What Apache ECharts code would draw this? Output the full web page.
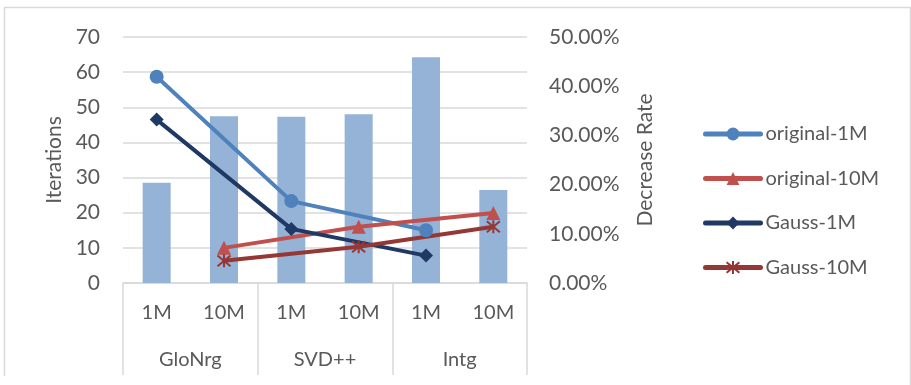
<!DOCTYPE html>
<html>
<head>
<meta charset="utf-8">
<script src="https://cdn.jsdelivr.net/npm/echarts@6/dist/echarts.min.js"></script>
<style>
  html, body { margin: 0; padding: 0; background: #fff; }
  #chart { width: 911px; height: 385px; }
</style>
</head>
<body>
<div id="chart"></div>
<script>
// Category tiers: data size under each algorithm group
const sizeLabels = ['1M', '10M', '1M', '10M', '1M', '10M'];
const groupLabels = ['GloNrg', 'SVD++', 'Intg'];

// Decrease rate (%) per column, drawn as bars on the right axis
const decreaseRate = [20.4, 33.9, 33.8, 34.3, 45.9, 18.9];

// Iteration counts (left axis); each series only has values in its own size columns
const original1M  = [58.7, null, 23.3, null, 15.0, null];
const original10M = [null, 10.0, null, 16.0, null, 19.9];
const gauss1M     = [46.5, null, 15.4, null, 7.8, null];
const gauss10M    = [null, 6.3, null, 10.3, null, 16.0];

const leftTicks = { min: 0, max: 70, interval: 10 };
const rightTicks = { min: 0, max: 50, interval: 10 };

const FONT = 'Lato';
const TEXT = '#595959';
const GRID = '#d9d9d9';

const asterisk = 'path://M0,0L10,10M10,0L0,10M5,-1L5,11';

const lineNames = ['original-1M', 'original-10M', 'Gauss-1M', 'Gauss-10M'];
const lineColors = ['#4f81bd', '#c0504d', '#1f3864', '#953735'];

const chart = echarts.init(document.getElementById('chart'), null, { renderer: 'canvas' });

function lineSeries(name, data, color, symbol, extra) {
  return Object.assign({
    name: name,
    type: 'line',
    yAxisIndex: 0,
    data: data,
    connectNulls: true,
    symbol: symbol,
    symbolSize: 14,
    lineStyle: { color: color, width: 4, cap: 'round' },
    itemStyle: { color: color },
    z: 3
  }, extra || {});
}

chart.setOption({
  animation: false,
  textStyle: { fontFamily: FONT },
  graphic: [{
    type: 'polyline',
    shape: { points: [[4.5, 376], [4.5, 7.5], [910.5, 7.5], [910.5, 385]] },
    style: { stroke: GRID, lineWidth: 1.5, fill: null },
    silent: true
  }],
  grid: { left: 123, right: 384, top: 37, bottom: 102 },
  legend: {
    orient: 'vertical',
    left: 698,
    top: 119,
    itemWidth: 55,
    itemHeight: 16,
    itemGap: 24.5,
    textStyle: { color: TEXT, fontSize: 20, fontFamily: FONT },
    data: lineNames.map((n, i) => ({
      name: n,
      lineStyle: { width: 5, color: lineColors[i], cap: 'round' }
    }))
  },
  xAxis: [{
    type: 'category',
    data: sizeLabels,
    position: 'bottom',
    axisLine: { show: true, lineStyle: { color: GRID, width: 1.5 } },
    axisTick: { show: false },
    axisLabel: { color: TEXT, fontSize: 20, margin: 20, fontFamily: FONT }
  }, {
    type: 'category',
    data: groupLabels,
    position: 'bottom',
    axisLine: { show: false },
    axisTick: { show: true, length: 92, lineStyle: { color: GRID, width: 1.5 } },
    axisLabel: { color: TEXT, fontSize: 20, margin: 67, fontFamily: FONT }
  }],
  yAxis: [{
    type: 'value',
    min: leftTicks.min, max: leftTicks.max, interval: leftTicks.interval,
    name: 'Iterations',
    nameLocation: 'middle',
    nameGap: 58,
    nameTextStyle: { color: TEXT, fontSize: 21, fontFamily: FONT },
    axisLine: { show: false },
    axisTick: { show: false },
    axisLabel: { color: TEXT, fontSize: 21, margin: 23, fontFamily: FONT },
    splitLine: { show: true, lineStyle: { color: GRID, width: 1.5 } }
  }, {
    type: 'value',
    min: rightTicks.min, max: rightTicks.max, interval: rightTicks.interval,
    name: 'Decrease Rate',
    nameLocation: 'middle',
    nameGap: 108,
    nameTextStyle: { color: TEXT, fontSize: 21, fontFamily: FONT },
    axisLine: { show: false },
    axisTick: { show: false },
    axisLabel: {
      color: TEXT, fontSize: 21, margin: 22, fontFamily: FONT,
      formatter: v => v.toFixed(2) + '%'
    },
    splitLine: { show: false }
  }],
  series: [
    {
      name: 'Decrease Rate',
      type: 'bar',
      yAxisIndex: 1,
      data: decreaseRate,
      barWidth: 28,
      itemStyle: { color: '#95b3d7' },
      z: 1
    },
    lineSeries(lineNames[0], original1M, lineColors[0], 'circle'),
    lineSeries(lineNames[1], original10M, lineColors[1], 'triangle'),
    lineSeries(lineNames[2], gauss1M, lineColors[2], 'diamond'),
    lineSeries(lineNames[3], gauss10M, lineColors[3], asterisk, {
      symbolSize: 13,
      itemStyle: { color: lineColors[3], borderColor: lineColors[3], borderWidth: 2 }
    })
  ]
});
</script>
</body>
</html>
